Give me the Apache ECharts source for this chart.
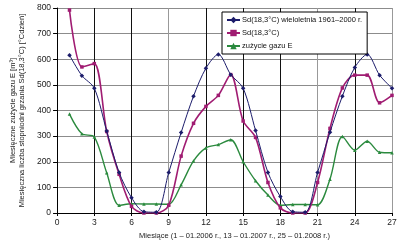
<!DOCTYPE html>
<html>
<head>
<meta charset="utf-8">
<script src="https://cdn.jsdelivr.net/npm/echarts@6.0.0/dist/echarts.min.js"></script>
<style>
	html, body { margin: 0; padding: 0; background: #fff; }
	#chart { width: 400px; height: 245px; }
</style>
</head>
<body>
<div id="chart"></div>
<script type="text/javascript">
	// miesiące 1..27
	var months = [1,2,3,4,5,6,7,8,9,10,11,12,13,14,15,16,17,18,19,20,21,22,23,24,25,26,27];
	// Sd(18,3°C) wieloletnia 1961-2000
	var sdLongTerm = [616,536,487,320,158,60,5,3,158,314,456,565,619,540,487,322,158,64,5,3,158,315,456,568,619,538,487];
	// Sd(18,3°C)
	var sdActual = [792,570,583,318,151,26,0,0,30,222,350,416,459,540,359,295,119,20,0,0,119,330,488,538,538,430,459];
	// zużycie gazu E
	var gasUse = [386,309,297,157,30,36,35,35,34,110,203,254,267,286,200,126,70,30,33,33,32,132,299,245,280,237,235];

	var seriesNames = ['Sd(18,3°C) wieloletnia 1961–2000 r.', 'Sd(18,3°C)', 'zużycie gazu E'];
	var font = '"Liberation Sans", Arial, sans-serif';

	function pairs(vals) {
		return months.map(function (m, i) { return [m, vals[i]]; });
	}

	var myChart = echarts.init(document.getElementById('chart'), null, {renderer: 'canvas'});
	var option = {
		animation: false,
		backgroundColor: '#fff',
		textStyle: { fontFamily: font },
		grid: { left: 53, right: 8, top: 8, bottom: 29 },
		legend: {
			data: seriesNames,
			orient: 'vertical',
			left: 222,
			top: 12,
			padding: [4, 5, 4, 4],
			itemGap: 5,
			itemWidth: 13,
			itemHeight: 8,
			backgroundColor: '#fff',
			borderColor: '#000',
			borderWidth: 1,
			borderRadius: 0,
			textStyle: { fontSize: 7.5, color: '#111', fontFamily: font, padding: [0, 0, 0, -3] }
		},
		xAxis: {
			type: 'value',
			min: 0,
			max: 27,
			interval: 3,
			name: 'Miesiące (1 – 01.2006 r., 13 – 01.2007 r., 25 – 01.2008 r.)',
			nameLocation: 'middle',
			nameGap: 19,
			nameTextStyle: { fontSize: 7.5, color: '#222', fontFamily: font, padding: [0, 0, 0, 20] },
			axisLine: { lineStyle: { color: '#000', width: 1 } },
			axisTick: { show: true, length: 3, lineStyle: { color: '#000' } },
			axisLabel: { fontSize: 8.5, color: '#222', margin: 5 },
			splitLine: {
				show: true,
				lineStyle: {
					color: ['#111', '#111', '#111', '#999', '#111', '#111', '#111', '#999', '#111', '#999'],
					width: 1
				}
			}
		},
		yAxis: {
			type: 'value',
			min: 0,
			max: 800,
			interval: 100,
			name: 'Miesięczne zużycie gazu E [m³]\nMiesięczna liczba stopniodni grzania Sd(18,3°C) [°Cdzień]',
			nameLocation: 'middle',
			nameRotate: 90,
			nameGap: 29,
			nameTextStyle: { fontSize: 7.5, color: '#222', fontFamily: font, lineHeight: 9 },
			axisLine: { show: true, lineStyle: { color: '#000', width: 1 } },
			axisTick: { show: true, length: 4, lineStyle: { color: '#000' } },
			axisLabel: { fontSize: 8.5, color: '#222', margin: 6 },
			splitLine: { show: true, lineStyle: { color: '#8c8c8c', width: 1 } }
		},
		series: [
			{
				name: seriesNames[0],
				type: 'line',
				data: pairs(sdLongTerm),
				smooth: 0.3,
				symbol: 'diamond',
				symbolSize: 4.5,
				itemStyle: { color: '#1c1c6b' },
				lineStyle: { color: '#1c1c6b', width: 1 },
				z: 3
			},
			{
				name: seriesNames[1],
				type: 'line',
				data: pairs(sdActual),
				smooth: 0.3,
				symbol: 'rect',
				symbolSize: 3.5,
				itemStyle: { color: '#a01c72' },
				lineStyle: { color: '#a01c72', width: 1.6 },
				z: 2
			},
			{
				name: seriesNames[2],
				type: 'line',
				data: pairs(gasUse),
				smooth: 0.3,
				symbol: 'triangle',
				symbolSize: 3.5,
				itemStyle: { color: '#2b8a3e' },
				lineStyle: { color: '#2b8a3e', width: 1.4 },
				z: 1
			}
		]
	};
	myChart.setOption(option);
</script>
</body>
</html>
